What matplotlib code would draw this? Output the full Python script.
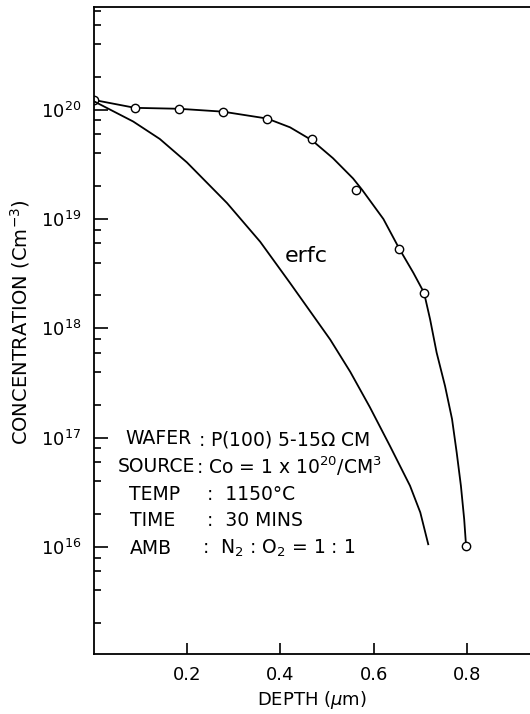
import matplotlib
matplotlib.use("Agg")
import matplotlib.pyplot as plt
from matplotlib.ticker import FixedLocator, FixedFormatter, NullFormatter

plt.rcParams['font.family'] = ['DejaVu Sans']
plt.rcParams['mathtext.fontset'] = 'dejavusans'

### Measured points (depth in um, concentration in cm^-3)
depth_meas = [0.0, 0.089, 0.183, 0.277, 0.372, 0.468, 0.562, 0.655, 0.708, 0.798]
conc_meas = [1.23e20, 1.04e20, 1.02e20, 9.6e19, 8.3e19, 5.4e19, 1.83e19, 5.35e18, 2.12e18, 1.03e16]

### Curve drawn through the measured points
depth_fit = [0.0, 0.089, 0.183, 0.277, 0.372, 0.421, 0.468, 0.513, 0.556, 0.575,
             0.621, 0.655, 0.685, 0.708, 0.721, 0.735, 0.753, 0.768, 0.778, 0.787,
             0.794, 0.798]
conc_fit = [1.23e20, 1.04e20, 1.02e20, 9.6e19, 8.3e19, 6.9e19, 5.25e19, 3.6e19, 2.35e19, 1.86e19,
            1.0e19, 5.35e18, 3.23e18, 2.12e18, 1.21e18, 6.0e17, 2.97e17, 1.48e17, 7.3e16, 3.63e16,
            1.8e16, 1.03e16]

### erfc profile
depth_erfc = [0.0, 0.085, 0.142, 0.200, 0.286, 0.357, 0.421, 0.507, 0.550, 0.592,
              0.635, 0.678, 0.700, 0.717]
conc_erfc = [1.2e20, 7.8e19, 5.4e19, 3.3e19, 1.4e19, 6.2e18, 2.6e18, 7.9e17, 4.0e17, 1.9e17,
             8.4e16, 3.63e16, 2.07e16, 1.06e16]

x_ticks = [0.2, 0.4, 0.6, 0.8]
x_tick_labels = ['0.2', '0.4', '0.6', '0.8']
y_major = [1e16, 1e17, 1e18, 1e19, 1e20]
y_major_labels = [r'$\mathregular{10^{16}}$', r'$\mathregular{10^{17}}$', r'$\mathregular{10^{18}}$',
                  r'$\mathregular{10^{19}}$', r'$\mathregular{10^{20}}$']
y_minor = [m * 10.0 ** e for e in range(15, 21) for m in (2, 4, 6, 8)]

W, H = 530, 714
fig = plt.figure(figsize=(W / 100, H / 100), dpi=100)
ax = fig.add_axes([93.5 / W, 1 - 654 / H, (W - 93.5) / W, (654 - 7) / H])

ax.plot(depth_fit, conc_fit, color='black', lw=1.3)
ax.plot(depth_meas, conc_meas, 'o', ms=6, mfc='white', mec='black', mew=1.0)
ax.plot(depth_erfc, conc_erfc, color='black', lw=1.3)

ax.set_yscale('log')
ax.set_xlim(0, 0.935)
ax.set_ylim(1.05e15, 8.7e20)

ax.xaxis.set_major_locator(FixedLocator(x_ticks))
ax.xaxis.set_major_formatter(FixedFormatter(x_tick_labels))
ax.yaxis.set_major_locator(FixedLocator(y_major))
ax.yaxis.set_major_formatter(FixedFormatter(y_major_labels))
ax.yaxis.set_minor_locator(FixedLocator(y_minor))
ax.yaxis.set_minor_formatter(NullFormatter())
ax.xaxis.set_minor_locator(FixedLocator([]))

ax.tick_params(axis='both', which='both', direction='in', width=1.2, labelsize=13)
ax.tick_params(axis='y', which='major', length=10, pad=9)
ax.tick_params(axis='y', which='minor', length=5)
ax.tick_params(axis='x', which='major', length=8, pad=9)

ax.spines['right'].set_visible(False)
for s in ('left', 'bottom', 'top'):
    ax.spines[s].set_linewidth(1.3)

ax.set_xlabel(r'DEPTH ($\mu$m)', fontsize=13, labelpad=3)
fig.text(20 / W, 1 - 322 / H, r'CONCENTRATION (Cm$^{-3}$)', rotation=90,
         ha='center', va='center', fontsize=14)

ax.text(0.41, 4.6e18, 'erfc', fontsize=16, ha='left', va='center')

### Process conditions block
def px(x, y, s, **kw):
    fig.text(x / W, 1 - y / H, s, ha='left', va='center', fontsize=13.5, **kw)

px(125, 439, 'WAFER')
px(198, 439, r': P(100) 5-15$\Omega$ CM')
px(118, 466, 'SOURCE')
px(196, 466, r': Co = 1 x 10$^{20}$/CM$^{3}$')
px(129, 494, 'TEMP')
px(207, 494, ':  1150°C')
px(130, 521, 'TIME')
px(207, 521, ':  30 MINS')
px(130, 548, 'AMB')
px(202, 548, r':  N$_2$ : O$_2$ = 1 : 1')

fig.savefig('out.png', dpi=100)
